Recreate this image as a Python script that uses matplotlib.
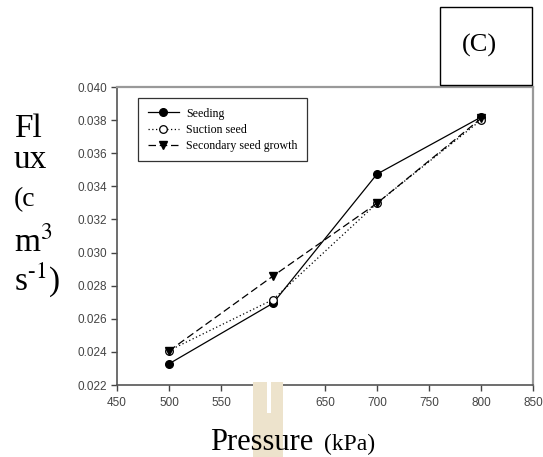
import matplotlib
matplotlib.use("Agg")
import matplotlib.pyplot as plt
from matplotlib.patches import Rectangle

pressure = [500, 600, 700, 800]
seeding = [0.02328, 0.02694, 0.03474, 0.03818]
suction = [0.02408, 0.02716, 0.03298, 0.03800]
secondary = [0.02406, 0.02858, 0.03298, 0.03810]
labels = ["Seeding", "Suction seed", "Secondary seed growth"]
xticks = [450, 500, 550, 600, 650, 700, 750, 800, 850]
yticks = [0.022, 0.024, 0.026, 0.028, 0.030, 0.032, 0.034, 0.036, 0.038, 0.040]

W, H = 543, 457
fig = plt.figure(figsize=(W / 100, H / 100), dpi=100)
fig.patch.set_facecolor("white")

# beige decoration at bottom
fig.patches.append(Rectangle((252.5 / W, 0), (283 - 252.5) / W, (457 - 382) / H,
                             transform=fig.transFigure, facecolor="#ede3cc",
                             edgecolor="none", zorder=0))
fig.patches.append(Rectangle((266.7 / W, (457 - 413) / H), 4 / W, 31 / H,
                             transform=fig.transFigure, facecolor="white",
                             edgecolor="none", zorder=0))

AL, AR, AT, AB = 117, 533, 87, 385
ax = fig.add_axes([AL / W, 1 - AB / H, (AR - AL) / W, (AB - AT) / H])
ax.patch.set_alpha(0)

ms = 5.5
ax.plot(pressure, seeding, color="black", lw=0.9, ls="-", marker="o",
        ms=ms, mfc="black", mec="black", label=labels[0], zorder=3)
ax.plot(pressure, suction, color="black", lw=0.9, ls=(0, (1, 2)), marker="o",
        ms=ms, mfc="white", mec="black", mew=0.9, label=labels[1], zorder=4)
ax.plot(pressure, secondary, color="black", lw=0.9, ls=(0, (6, 3)), marker="v",
        ms=ms, mfc="black", mec="black", label=labels[2], zorder=5)

ax.set_xlim(450, 850)
ax.set_ylim(0.022, 0.040)
ax.set_xticks(xticks)
ax.set_yticks(yticks)
ax.set_xticklabels([str(v) for v in xticks])
ax.set_yticklabels([f"{v:.3f}" for v in yticks])
ax.tick_params(direction="out", length=4, width=1, color="#444444",
               labelsize=8.5, labelcolor="#444444", pad=3)
ax.tick_params(axis="x", pad=5)
for lab in ax.get_xticklabels() + ax.get_yticklabels():
    lab.set_family(["Liberation Sans", "DejaVu Sans"])
for s in ["left", "bottom"]:
    ax.spines[s].set_color("#555555")
    ax.spines[s].set_linewidth(1.2)
for s in ["top", "right"]:
    ax.spines[s].set_color("#999999")
    ax.spines[s].set_linewidth(1.6)

leg = ax.legend(loc="upper left",
                bbox_to_anchor=((138 - AL) / (AR - AL), 1 - (98 - AT) / (AB - AT)),
                prop={"family": "Liberation Serif", "size": 8.6},
                frameon=True, fancybox=False, edgecolor="black",
                handlelength=2.6, handletextpad=0.6, borderpad=0.8,
                labelspacing=0.35, borderaxespad=0)
leg.get_frame().set_linewidth(0.9)

serif = "Liberation Serif"
# y label split in lines
fig.text(14 / W, 1 - 137 / H, "Fl", family=serif, fontsize=24, ha="left", va="baseline")
fig.text(14 / W, 1 - 168 / H, "ux", family=serif, fontsize=24, ha="left", va="baseline")
fig.text(14 / W, 1 - 206 / H, "(c", family=serif, fontsize=20, ha="left", va="baseline")
fig.text(14 / W, 1 - 251 / H, "m$^{3}$", family=serif, fontsize=24, ha="left", va="baseline",
         math_fontfamily="stix")
fig.text(14 / W, 1 - 290 / H, "s$^{\\text{-}1}$)", family=serif, fontsize=24, ha="left",
         va="baseline", math_fontfamily="stix")

# (C) box
fig.patches.append(Rectangle((440 / W, 1 - 85 / H), (531.5 - 440) / W, (85 - 7) / H,
                             transform=fig.transFigure, facecolor="white",
                             edgecolor="black", lw=1.0, zorder=5))
fig.text(479 / W, 1 - 52 / H, "(C)", family=serif, fontsize=19, ha="center",
         va="baseline", zorder=6)

# x label
fig.text(210 / W, 1 - 450 / H, "Pressure", family=serif, fontsize=22, ha="left", va="baseline")
fig.text(324 / W, 1 - 450 / H, "(kPa)", family=serif, fontsize=17, ha="left", va="baseline")

fig.savefig("out.png", dpi=100, facecolor="white")
